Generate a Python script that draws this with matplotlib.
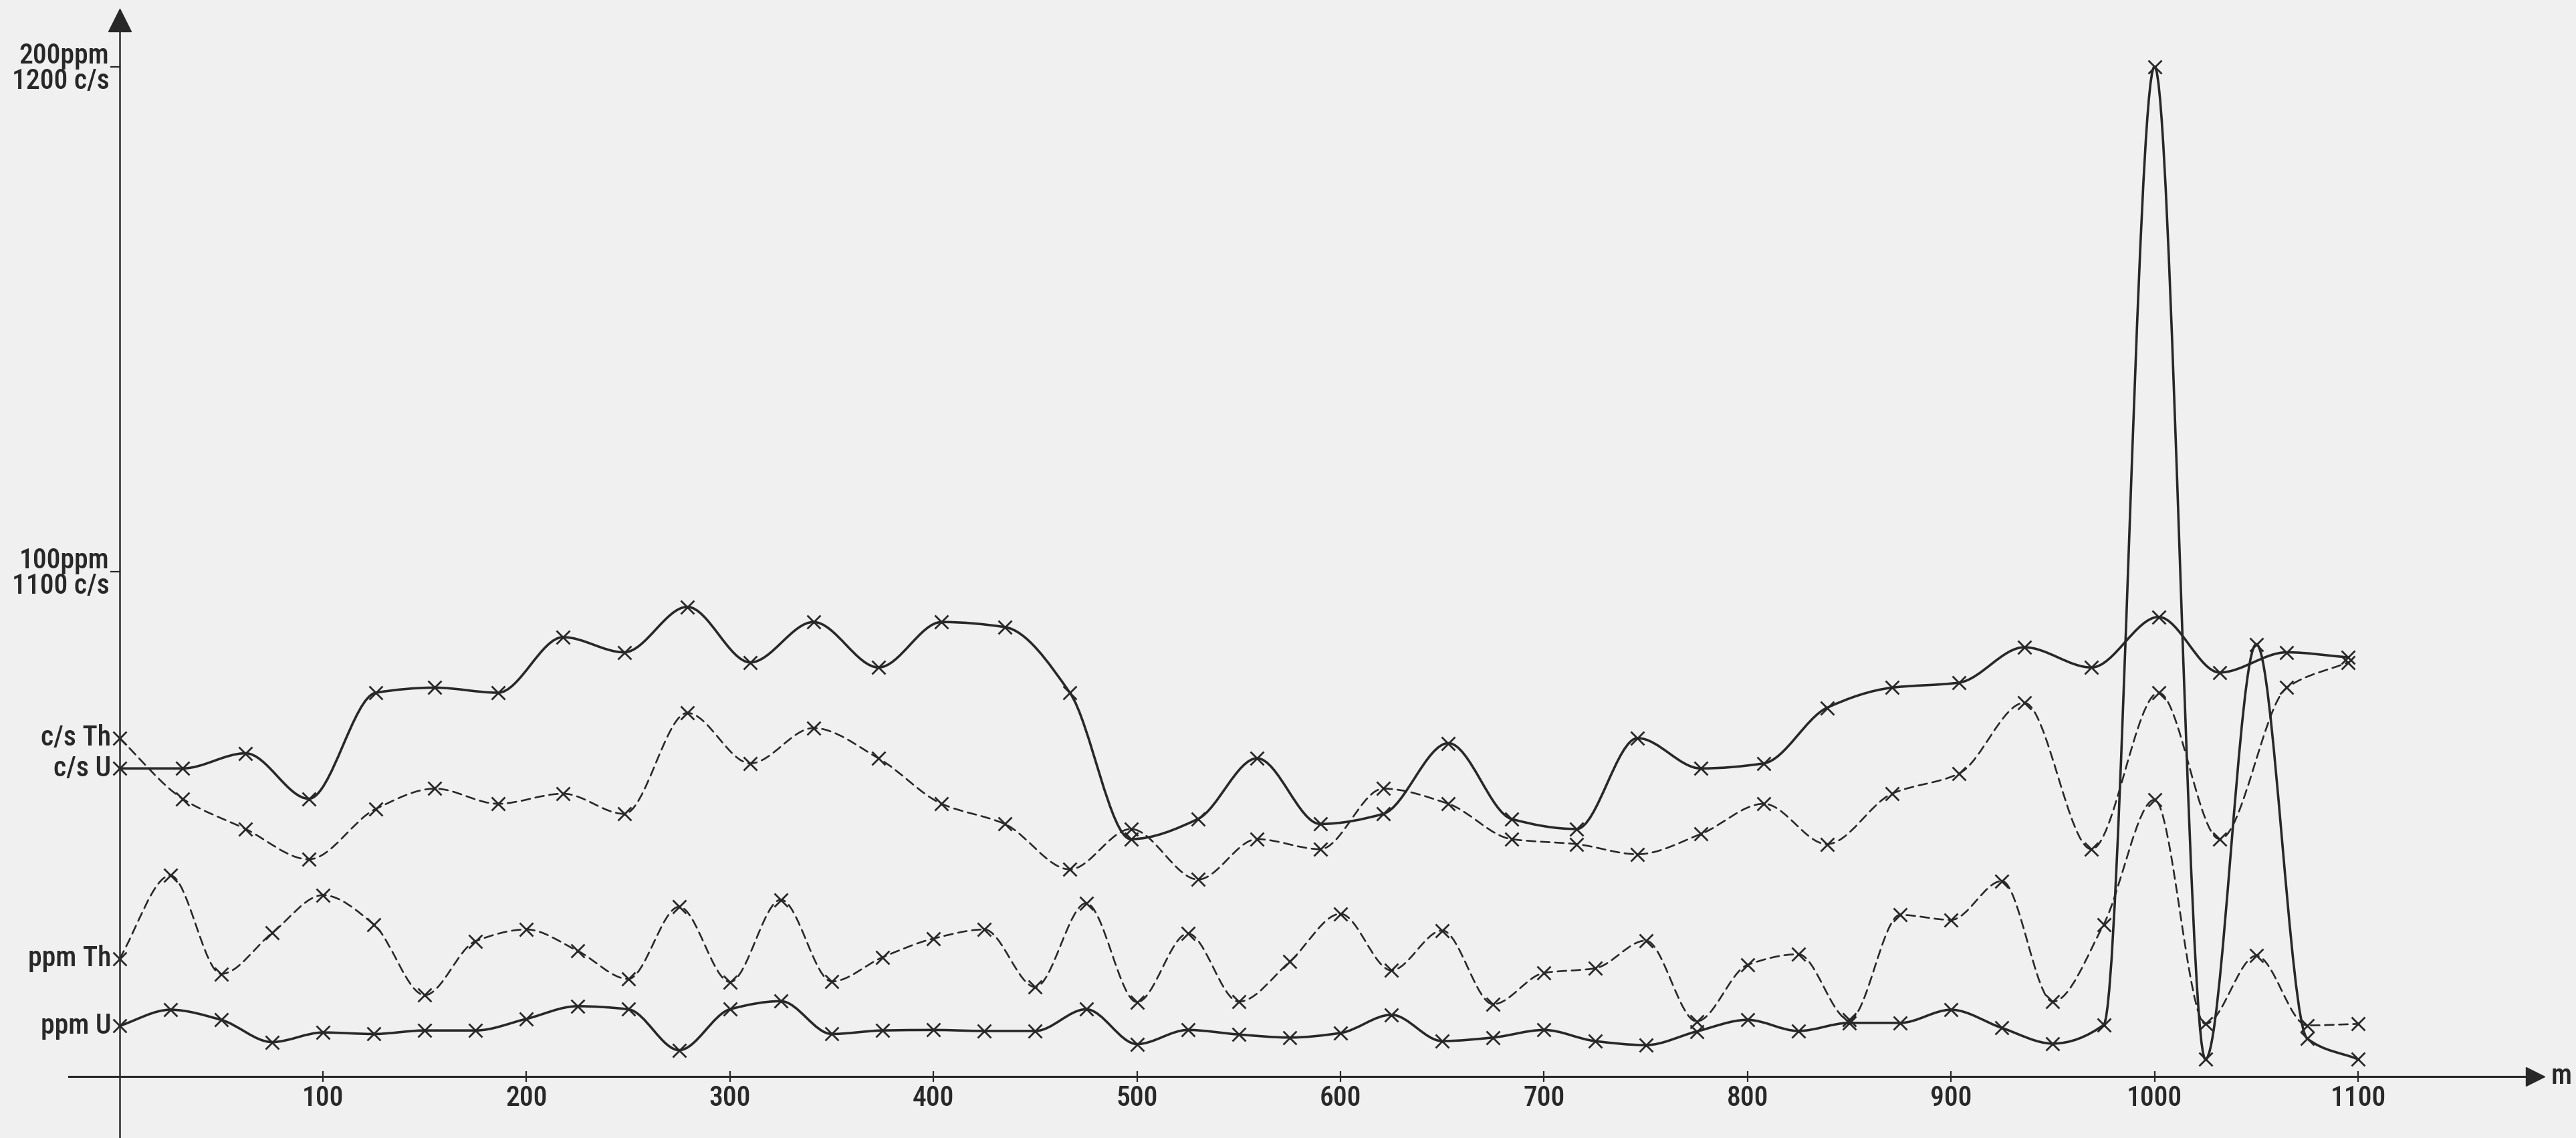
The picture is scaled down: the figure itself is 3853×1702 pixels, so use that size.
import os
import numpy as np
import matplotlib.pyplot as plt
from matplotlib import font_manager
from matplotlib.path import Path
from matplotlib.patches import PathPatch

PAPER = "#f0f0f0"
INK = "#282828"

# distance along the profile (m); ppm samples every 25 m
ppm_x = np.arange(0, 1101, 25)
ppm_u = [10.0, 13.2, 11.2, 6.8, 8.7, 8.4, 9.1, 9.1,
         11.4, 13.9, 13.3, 5.2, 13.3, 14.9, 8.4, 9.1,
         9.2, 9.0, 9.0, 13.3, 6.4, 9.2, 8.3, 7.7,
         8.6, 12.2, 7.0, 7.7, 9.2, 7.0, 6.2, 8.9,
         11.2, 9.0, 10.6, 10.6, 13.2, 9.6, 6.5, 10.2,
         200.0, 3.4, 85.6, 7.5, 3.4]
ppm_th = [23.3, 39.8, 20.3, 28.4, 35.9, 30.1, 16.1, 26.8,
          29.1, 24.9, 19.3, 33.6, 18.7, 35.0, 18.8, 23.6,
          27.3, 29.1, 17.7, 34.3, 14.7, 28.3, 14.8, 22.7,
          32.2, 21.0, 28.9, 14.3, 20.5, 21.4, 26.9, 10.9,
          22.1, 24.2, 11.2, 32.0, 31.0, 38.7, 14.8, 30.1,
          54.8, 10.4, 23.9, 10.1, 10.4]

# counts per second, sampled on a slightly wider step
cps_x = [0, 31, 62, 93, 126, 155, 186, 218, 248, 279, 310, 341, 373,
         404, 435, 467, 497, 530, 559, 590, 621, 653, 684, 716, 746, 777,
         808, 839, 871, 904, 936, 969, 1002, 1032, 1065, 1095]
cps_u = [1061, 1061, 1064, 1055, 1076, 1077, 1076, 1087, 1084, 1093, 1082, 1090, 1081,
         1090, 1089, 1076, 1047, 1051, 1063, 1050, 1052, 1066, 1051, 1049, 1067, 1061,
         1062, 1073, 1077, 1078, 1085, 1081, 1091, 1080, 1084, 1083]
cps_th = [1067, 1055, 1049, 1043, 1053, 1057, 1054, 1056, 1052, 1072, 1062, 1069, 1063,
          1054, 1050, 1041, 1049, 1039, 1047, 1045, 1057, 1054, 1047, 1046, 1044, 1048,
          1054, 1046, 1056, 1060, 1074, 1045, 1076, 1047, 1077, 1082]

x_ticks = [100, 200, 300, 400, 500, 600, 700, 800, 900, 1000, 1100]
x_tick_labels = [str(t) for t in x_ticks]
y_ticks = [100, 200]
y_tick_labels = ["100ppm\n1100 c/s", "200ppm\n1200 c/s"]
CPS_OFFSET = 1000  # 1000 c/s sits on the baseline, 100 c/s per 100 ppm


def lettering_font(size):
    # narrow stencil-like lettering: take the first condensed face installed
    wanted = ["notosans-condensedmedium", "robotocondensed-medium",
              "notosans-condensed.", "robotocondensed-regular",
              "liberationsansnarrow-regular", "dejavusanscondensed."]
    files = sorted(f.fname for f in font_manager.fontManager.ttflist)
    for key in wanted:
        for path in files:
            if os.path.basename(path).lower().startswith(key):
                return font_manager.FontProperties(fname=path, size=size)
    return font_manager.FontProperties(family="DejaVu Sans", stretch="condensed", size=size)


FONT = lettering_font(30)


def smooth_path(x, y):
    # monotone cubic through the samples, like a french-curve drawing
    x = np.asarray(x, float)
    y = np.asarray(y, float)
    h = np.diff(x)
    d = np.diff(y) / h
    slopes = np.zeros_like(y)
    slopes[0], slopes[-1] = d[0], d[-1]
    for k in range(1, len(y) - 1):
        if d[k - 1] * d[k] > 0:
            w1 = 2 * h[k] + h[k - 1]
            w2 = h[k] + 2 * h[k - 1]
            slopes[k] = (w1 + w2) / (w1 / d[k - 1] + w2 / d[k])
    verts = [(x[0], y[0])]
    codes = [Path.MOVETO]
    for k in range(len(h)):
        verts += [(x[k] + h[k] / 3, y[k] + slopes[k] * h[k] / 3),
                  (x[k + 1] - h[k] / 3, y[k + 1] - slopes[k + 1] * h[k] / 3),
                  (x[k + 1], y[k + 1])]
        codes += [Path.CURVE4] * 3
    return Path(verts, codes)


def draw_series(axis, x, y, dashed):
    style = (0, (5, 3)) if dashed else "-"
    width = 1.9 if dashed else 2.6
    axis.add_patch(PathPatch(smooth_path(x, y), fill=False, edgecolor=INK,
                             linewidth=width, linestyle=style, capstyle="round"))
    axis.plot(x, y, linestyle="none", marker="x", markersize=15,
              markeredgewidth=2.0, color=INK)


fig = plt.figure(figsize=(38.53, 17.02), dpi=100, facecolor=PAPER)
ax = fig.add_axes([0, 0, 1, 1])
ax.set_facecolor(PAPER)
ax.set_xlim(-58.7, 1207.1)
ax.set_ylim(-12.2, 213.2)

ax_cps = ax.twinx()
ax_cps.set_ylim(-12.2 + CPS_OFFSET, 213.2 + CPS_OFFSET)
ax_cps.axis("off")

# axes drawn as arrows through the origin
ax.spines["top"].set_visible(False)
ax.spines["right"].set_visible(False)
ax.spines["left"].set_position(("data", 0))
ax.spines["bottom"].set_position(("data", 0))
ax.spines["left"].set_bounds(-12.2, 208)
ax.spines["bottom"].set_bounds(-25, 1186)
ax.spines["left"].set_linewidth(1.8)
ax.spines["bottom"].set_linewidth(2.2)
ax.spines["left"].set_color(INK)
ax.spines["bottom"].set_color(INK)
ax.plot(0, 209.2, marker="^", markersize=24, color=INK, clip_on=False)
ax.plot(1187, 0, marker=">", markersize=20, color=INK, clip_on=False)
ax.annotate("m", xy=(1191.5, 0), xytext=(7, 0), textcoords="offset points",
            ha="left", va="center", fontproperties=FONT, color=INK)

ax.set_xticks(x_ticks, labels=x_tick_labels, fontproperties=FONT)
ax.tick_params(axis="x", direction="inout", length=12, width=1.6, pad=3, colors=INK)
ax.set_yticks(y_ticks, labels=y_tick_labels, fontproperties=FONT)
ax.tick_params(axis="y", direction="out", length=10, width=1.6, pad=1, colors=INK)
for label in ax.get_yticklabels():
    label.set_linespacing(0.9)
    label.set_multialignment("right")

draw_series(ax_cps, cps_x, cps_u, dashed=False)
draw_series(ax_cps, cps_x, cps_th, dashed=True)
draw_series(ax, ppm_x, ppm_th, dashed=True)
draw_series(ax, ppm_x, ppm_u, dashed=False)

series_labels = [(ax_cps, "c/s Th", cps_x[0], cps_th[0]),
                 (ax_cps, "c/s U", cps_x[0], cps_u[0]),
                 (ax, "ppm Th", ppm_x[0], ppm_th[0]),
                 (ax, "ppm U", ppm_x[0], ppm_u[0])]
for axis, text, x0, y0 in series_labels:
    axis.annotate(text, xy=(x0, y0), xytext=(-9, 0), textcoords="offset points",
                  ha="right", va="center", fontproperties=FONT, color=INK)

fig.savefig("out.png", dpi=100, facecolor=PAPER)
